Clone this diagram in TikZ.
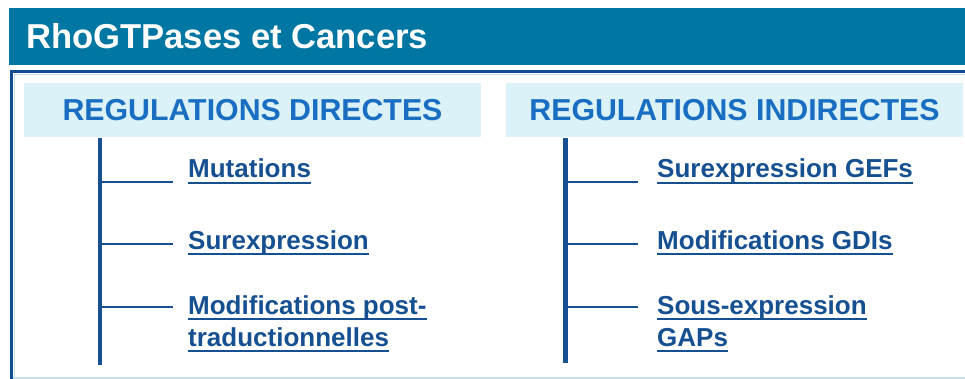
\documentclass[tikz,border=0pt]{standalone}
\usepackage{fontspec}
\setmainfont{Liberation Sans}
\definecolor{titlebar}{RGB}{0,118,162}
\definecolor{framedark}{RGB}{16,76,146}
\definecolor{framelight}{RGB}{200,222,238}
\definecolor{hdrfill}{RGB}{219,243,248}
\definecolor{hdrtext}{RGB}{26,110,194}
\definecolor{itemcol}{RGB}{22,80,145}
\tikzset{
  hdrbox/.style={fill=hdrfill, draw=none, inner sep=0pt, minimum width=457pt, minimum height=54pt,
    text=hdrtext, font=\bfseries\fontsize{30.3}{34}\selectfont},
  itemtext/.style={anchor=base west, inner sep=0pt, text=itemcol, font=\bfseries\fontsize{26}{30}\selectfont},
  trunk/.style={draw=itemcol, line width=4.5pt},
  branch/.style={draw=itemcol, line width=1.6pt},
  uline/.style={draw=itemcol, line width=2.6pt}
}
\newcommand\myitem[4]{%
  \node[itemtext] (#1) at (#2,#3) {#4};
  \draw[uline] ([yshift=-5pt]#1.base west) -- ([yshift=-5pt]#1.base east);
}
\begin{document}
\begin{tikzpicture}[x=1pt,y=-1pt]
\useasboundingbox (0,0) rectangle (965,379);
% title bar
\node[fill=titlebar, draw=none, inner sep=0pt, minimum width=957pt, minimum height=57pt, anchor=north west] (bar) at (9,8) {};
\node[anchor=base west, inner sep=0pt, text=white, font=\bfseries\fontsize{34.6}{38}\selectfont] (title) at (26,48.5) {RhoGTPases et Cancers};
% frame
\coordinate (ftl) at (11.7,71.7);
\coordinate (ftr) at (966,71.7);
\coordinate (fbl) at (11.7,380);
\draw[framelight, line width=1.8pt] (10,377.6) -- (966,377.6);
\draw[framelight, line width=1.2pt] (14.2,380) -- (14.2,74.2) -- (966,74.2);
\draw[framedark, line width=3.4pt] (fbl) -- (ftl) -- (ftr);
% headers
\node[hdrbox] (hl) at (252.5,110) {REGULATIONS DIRECTES};
\node[hdrbox] (hr) at (734.5,110) {REGULATIONS INDIRECTES};
% left tree
\coordinate (lt) at (100,138);
\coordinate (lb) at (100,365);
\draw[trunk] (lt) -- (lb);
\coordinate (l1a) at (100,182); \coordinate (l1b) at (172.5,182);
\coordinate (l2a) at (100,244); \coordinate (l2b) at (172.5,244);
\coordinate (l3a) at (100,307); \coordinate (l3b) at (172.5,307);
\draw[branch] (l1a) -- (l1b);
\draw[branch] (l2a) -- (l2b);
\draw[branch] (l3a) -- (l3b);
\myitem{m1}{188}{178}{Mutations}
\myitem{m2}{188}{249}{Surexpression}
\myitem{m3}{188}{314}{Modifications post-}
\myitem{m3b}{188}{346}{traductionnelles}
% right tree
\coordinate (rt) at (565.5,138);
\coordinate (rb) at (565.5,363);
\draw[trunk] (rt) -- (rb);
\coordinate (r1a) at (565.5,182); \coordinate (r1b) at (638,182);
\coordinate (r2a) at (565.5,244); \coordinate (r2b) at (638,244);
\coordinate (r3a) at (565.5,307); \coordinate (r3b) at (638,307);
\draw[branch] (r1a) -- (r1b);
\draw[branch] (r2a) -- (r2b);
\draw[branch] (r3a) -- (r3b);
\myitem{n1}{657}{178}{Surexpression GEFs}
\myitem{n2}{657}{249}{Modifications GDIs}
\myitem{n3}{657}{314}{Sous-expression}
\myitem{n3b}{657}{346}{GAPs}
\end{tikzpicture}
\end{document}
